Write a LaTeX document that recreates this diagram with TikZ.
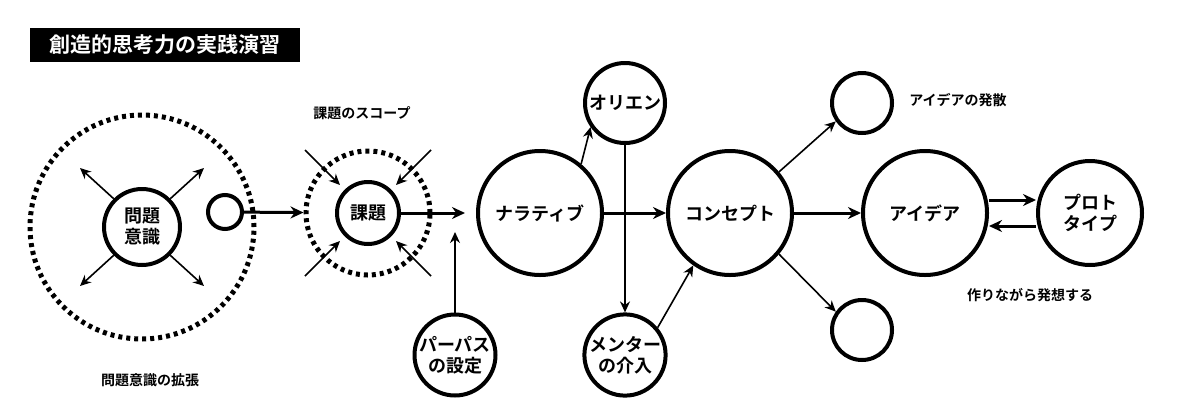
\documentclass[tikz,border=0pt]{standalone}
\usepackage{fontspec}
\setmainfont{Noto Sans CJK JP}[BoldFont={* Bold}]
\usetikzlibrary{arrows.meta}
\begin{document}
\begin{tikzpicture}[x=1pt,y=-1pt,
  c/.style={circle,draw,line width=4pt,align=center,font=\bfseries\fontsize{18}{21}\selectfont,inner sep=0pt},
  dot/.style={circle,draw,line width=5pt,dash pattern=on 4pt off 4pt},
  ar/.style={-{Stealth[length=11pt,width=10pt]},line width=1.6pt},
  art/.style={-{Stealth[length=13pt,width=12pt]},line width=3pt},
  lbl/.style={font=\bfseries\fontsize{14}{16}\selectfont}]
\useasboundingbox (0,0) rectangle (1198,413);
\node[fill=black,text=white,font=\bfseries\fontsize{21}{23}\selectfont,minimum width=270,minimum height=34,inner sep=0] (title) at (165,45) {創造的思考力の実践演習};
% problem awareness
\node[dot,minimum size=224] (big) at (142,227) {};
\node[c,minimum size=76] (mon) at (142,227) {問題\\意識};
\node[c,minimum size=34] (sm) at (225,212) {};
\coordinate (p1) at (80,168);\coordinate (p2) at (204,168);
\coordinate (p3) at (80,286);\coordinate (p4) at (204,286);
\foreach \p/\a in {p1/135,p2/45,p3/225,p4/315}{\draw[ar] (mon.\a) -- (\p);}
\node[lbl] (l1) at (150,380) {問題意識の拡張};
% kadai
\node[dot,minimum size=124] (kd) at (368,213) {};
\node[c,minimum size=62] (kadai) at (368,213) {課題};
\draw[art] (sm) -- (kd);
\coordinate (q1) at (305,150);\coordinate (q2) at (431,150);
\coordinate (q3) at (305,276);\coordinate (q4) at (431,276);
\coordinate (r1) at (340,185);\coordinate (r2) at (396,185);
\coordinate (r3) at (340,241);\coordinate (r4) at (396,241);
\foreach \i in {1,2,3,4}{\draw[ar] (q\i) -- (r\i);}
\node[lbl] (l2) at (362,113) {課題のスコープ};
\coordinate (kx) at (465,213);
\draw[art] (kadai) -- (kx);
\node[c,minimum size=80] (pp) at (455,355) {パーパス\\の設定};
\coordinate (pt) at (455,232);
\draw[ar] (pp) -- (pt);
% narrative
\node[c,minimum size=124] (nar) at (540,213) {ナラティブ};
\node[c,minimum size=80] (ori) at (625,103) {オリエン};
\node[c,minimum size=80] (men) at (625,355) {メンター\\の介入};
\node[c,minimum size=124] (con) at (730,213) {コンセプト};
\draw[ar] (nar.50) -- (ori.215);
\draw[ar] (ori) -- (men);
\draw[ar] (men.40) -- (con.235);
\draw[art] (nar) -- (con);
\node[c,minimum size=60] (s1) at (862,103) {};
\node[c,minimum size=60] (s2) at (862,330) {};
\draw[ar] (con.40) -- (s1.215);
\draw[ar] (con.320) -- (s2.145);
\node[lbl] (l3) at (958,100) {アイデアの発散};
\node[c,minimum size=124] (ide) at (925,213) {アイデア};
\draw[art] (con) -- (ide);
\node[c,minimum size=104] (pro) at (1090,213) {プロト\\タイプ};
\draw[art] (ide.east|-0,200) -- (pro.west|-0,200);
\draw[art] (pro.west|-0,226) -- (ide.east|-0,226);
\node[lbl] (l4) at (1030,295) {作りながら発想する};
\end{tikzpicture}
\end{document}
